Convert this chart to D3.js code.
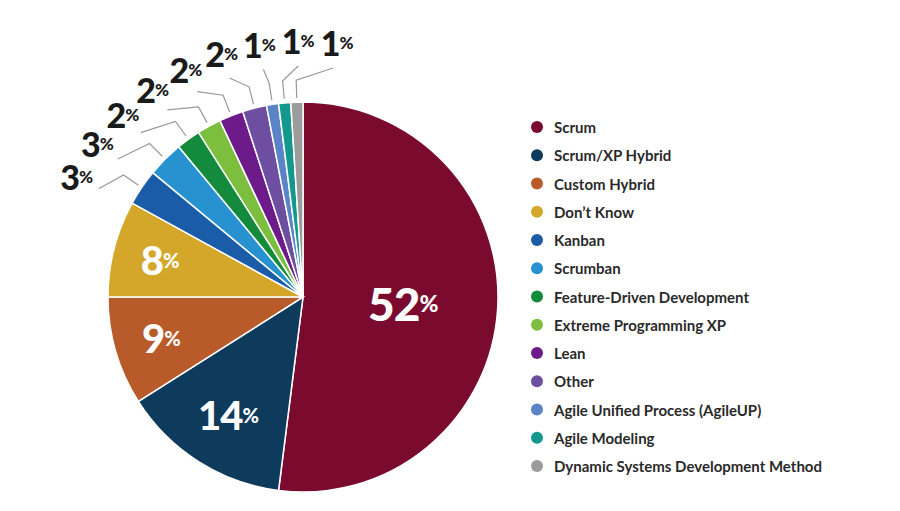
<!DOCTYPE html><html><head><meta charset="utf-8"><script src="https://cdn.jsdelivr.net/npm/d3@7"></script>
<style>body{margin:0;background:#fff}</style></head><body><svg id="c" width="900" height="511"></svg>
<script>
const categories=["Scrum","Scrum/XP Hybrid","Custom Hybrid","Don’t Know","Kanban","Scrumban","Feature-Driven Development","Extreme Programming XP","Lean","Other","Agile Unified Process (AgileUP)","Agile Modeling","Dynamic Systems Development Method"];
const values=[52,14,9,8,3,3,2,2,2,2,1,1,1];
const colors=["#7a0b2f","#0e3a5c","#b85a2a","#d4a62a","#1a5ca8","#2892d0","#138a3c","#7cbf3e","#6d1b8a","#6e4ea0","#5b84c8","#14988e","#9b9b9b"];
const svg=d3.select("#c");
const cx=303,cy=297,R=195;
const g=svg.append("g").attr("transform",`translate(${cx},${cy})`);
const pie=d3.pie().sort(null).value(d=>d)(values);
const arc=d3.arc().innerRadius(0).outerRadius(R);
g.selectAll("path").data(pie).join("path").attr("d",arc).attr("fill",(d,i)=>colors[i]).attr("stroke","#fff").attr("stroke-width",1.5);
const F="Lato, 'DejaVu Sans', sans-serif";
const deg=Math.PI/180;
const ptA=(a,r)=>[r*Math.sin(a),-r*Math.cos(a)];
const firstSmall=4,nSmall=values.length-firstSmall;
const labAng=d3.scaleLinear().domain([0,nSmall-1]).range([-62*deg,7.5*deg]);
pie.forEach((d,i)=>{
  const a=(d.startAngle+d.endAngle)/2;
  let p,size,col;
  if(values[i]>=8){const r=i==0?100:(i==1?140:148);p=ptA(a,r);size=i==0?46:40;col="#fff";}
  else{
    const k=i-firstSmall, la=labAng(k);
    const p1=ptA(a,R+4),p2=ptA(a,R+22),p3=ptA(la,R+36);
    g.append("polyline").attr("points",[p1,p2,p3].map(q=>q.join(",")).join(" ")).attr("fill","none").attr("stroke","#999").attr("stroke-width",1.2);
    p=ptA(la,R+62);size=34;col="#1a1a1a";
  }
  const t=g.append("text").attr("x",p[0]).attr("y",p[1]).attr("text-anchor","middle").attr("dominant-baseline","central").attr("font-family",F).attr("font-weight",900).attr("fill",col).attr("font-size",size).attr("letter-spacing",-1);
  t.append("tspan").text(values[i]);
  t.append("tspan").text("%").attr("font-size",size*0.5);
});
const lg=svg.append("g");
categories.forEach((c,i)=>{
  const y=127+i*28.25;
  lg.append("circle").attr("cx",537).attr("cy",y).attr("r",6).attr("fill",colors[i]);
  lg.append("text").attr("x",554).attr("y",y).attr("dominant-baseline","central").attr("font-family",F).attr("font-weight",700).attr("font-size",15).attr("fill","#2a2a2a").text(c);
});
</script></body></html>
